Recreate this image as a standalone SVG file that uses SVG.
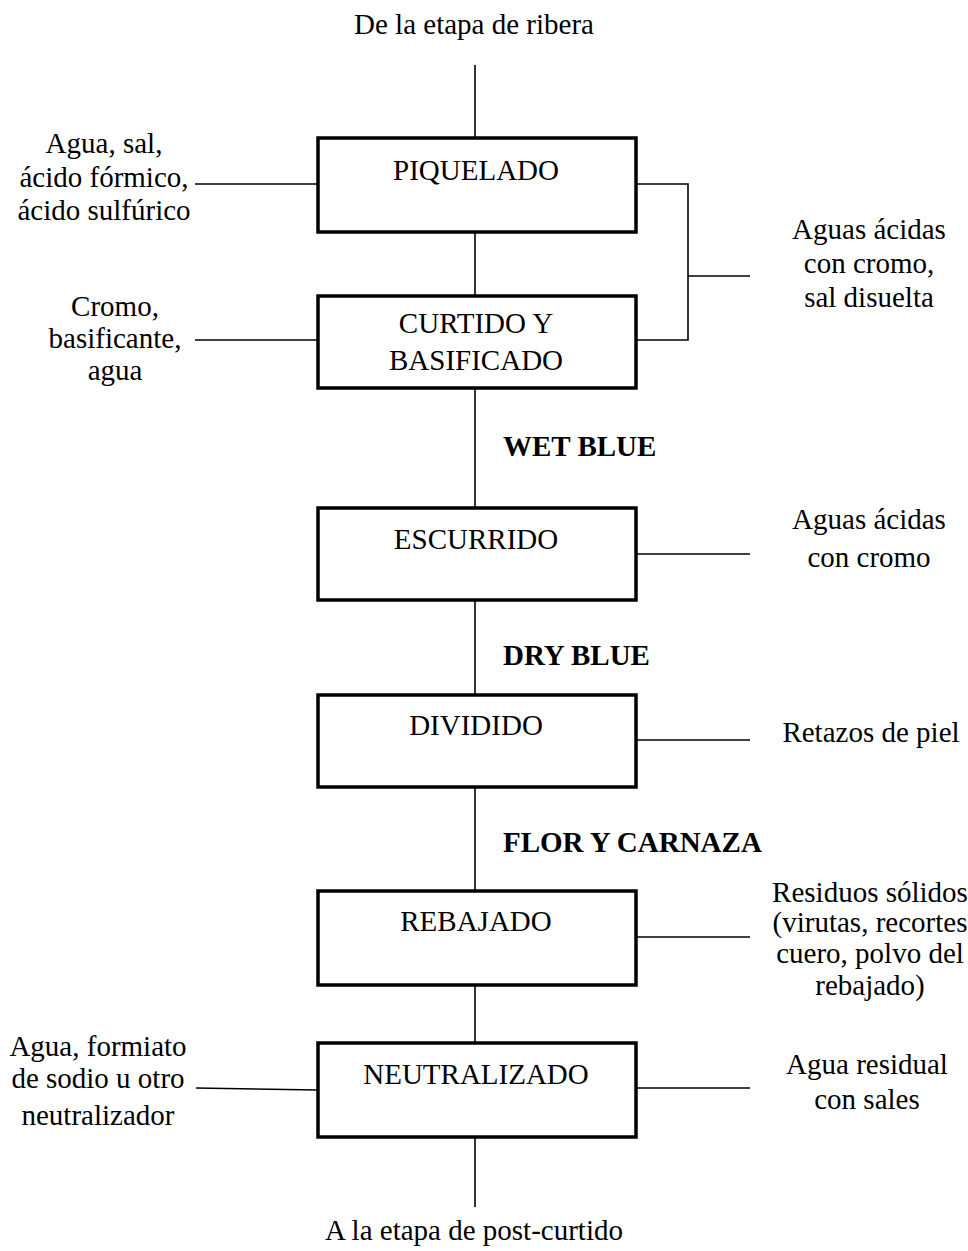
<svg xmlns="http://www.w3.org/2000/svg" width="968" height="1251" viewBox="0 0 968 1251">
<style>
text{font-family:"Liberation Serif","Times New Roman",serif;font-size:29px;fill:#000;text-anchor:middle}
.b{font-weight:bold;text-anchor:start}
.box{fill:#fff;stroke:#000;stroke-width:3.5}
.ln{stroke:#000;stroke-width:1.6;fill:none}
</style>
<rect width="968" height="1251" fill="#fff"/>
<g id="connectors">
<line class="ln" x1="475" y1="65" x2="475" y2="138"/>
<line class="ln" x1="475" y1="232" x2="475" y2="296"/>
<line class="ln" x1="475" y1="388" x2="475" y2="508"/>
<line class="ln" x1="475" y1="600" x2="475" y2="695"/>
<line class="ln" x1="475" y1="787" x2="475" y2="891"/>
<line class="ln" x1="475" y1="985" x2="475" y2="1043"/>
<line class="ln" x1="475" y1="1137" x2="475" y2="1207"/>
<line class="ln" x1="195" y1="184" x2="318" y2="184"/>
<line class="ln" x1="195" y1="340" x2="318" y2="340"/>
<polyline class="ln" points="636,184 688,184 688,340 636,340"/>
<line class="ln" x1="688" y1="276" x2="750" y2="276"/>
<line class="ln" x1="636" y1="554" x2="750" y2="554"/>
<line class="ln" x1="636" y1="740" x2="750" y2="740"/>
<line class="ln" x1="636" y1="937" x2="750" y2="937"/>
<line class="ln" x1="196" y1="1088" x2="318" y2="1090"/>
<line class="ln" x1="636" y1="1088" x2="750" y2="1088"/>
</g>
<g id="piquelado"><rect class="box" x="318" y="138" width="318" height="94"/><text x="476" y="180">PIQUELADO</text></g>
<g id="curtido"><rect class="box" x="318" y="296" width="318" height="92"/><text x="476" y="333">CURTIDO Y</text><text x="476" y="370">BASIFICADO</text></g>
<g id="escurrido"><rect class="box" x="318" y="508" width="318" height="92"/><text x="476" y="549">ESCURRIDO</text></g>
<g id="dividido"><rect class="box" x="318" y="695" width="318" height="92"/><text x="476" y="735">DIVIDIDO</text></g>
<g id="rebajado"><rect class="box" x="318" y="891" width="318" height="94"/><text x="476" y="931">REBAJADO</text></g>
<g id="neutralizado"><rect class="box" x="318" y="1043" width="318" height="94"/><text x="476" y="1084">NEUTRALIZADO</text></g>
<g id="labels">
<text x="474" y="34">De la etapa de ribera</text>
<text x="104" y="153">Agua, sal,</text>
<text x="104" y="187">ácido fórmico,</text>
<text x="104" y="220">ácido sulfúrico</text>
<text x="115" y="316">Cromo,</text>
<text x="115" y="348">basificante,</text>
<text x="115" y="380">agua</text>
<text x="869" y="239">Aguas ácidas</text>
<text x="869" y="273">con cromo,</text>
<text x="869" y="307">sal disuelta</text>
<text class="b" x="503" y="456">WET BLUE</text>
<text x="869" y="529">Aguas ácidas</text>
<text x="869" y="567">con cromo</text>
<text class="b" x="503" y="665">DRY BLUE</text>
<text x="871" y="742">Retazos de piel</text>
<text class="b" x="503" y="852">FLOR Y CARNAZA</text>
<text x="870" y="902">Residuos sólidos</text>
<text x="870" y="932">(virutas, recortes</text>
<text x="870" y="963">cuero, polvo del</text>
<text x="870" y="995">rebajado)</text>
<text x="98" y="1056">Agua, formiato</text>
<text x="98" y="1088">de sodio u otro</text>
<text x="98" y="1125">neutralizador</text>
<text x="867" y="1074">Agua residual</text>
<text x="867" y="1109">con sales</text>
<text x="474" y="1240">A la etapa de post-curtido</text>
</g>
</svg>
